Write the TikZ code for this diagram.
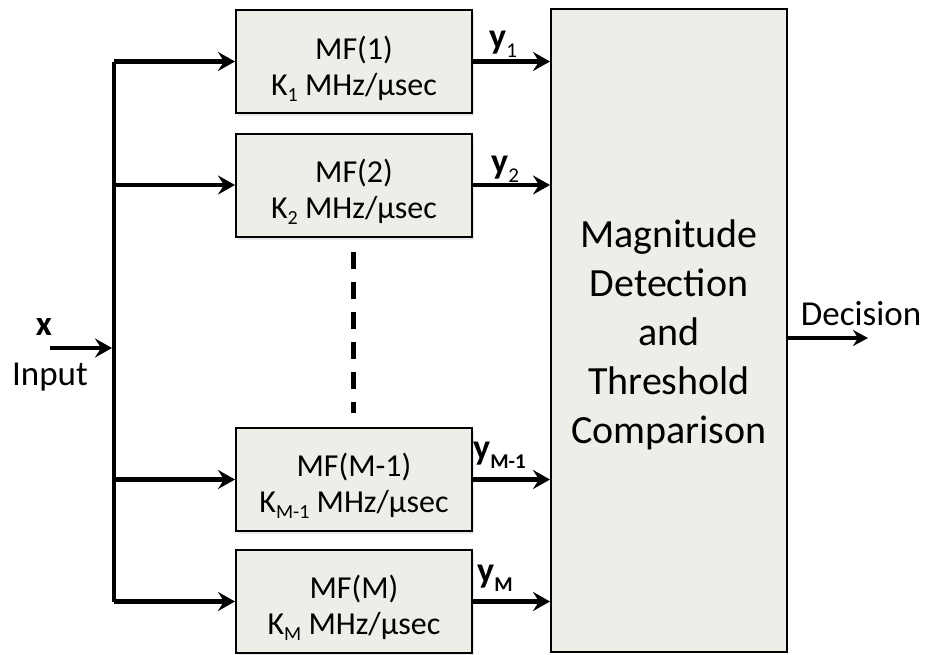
\documentclass[tikz,border=0pt]{standalone}
\usepackage{fontspec}
\setmainfont{Carlito}
\usetikzlibrary{arrows.meta,shadows}
\definecolor{boxfill}{RGB}{238,238,232}
\newcommand\ksub[1]{\raisebox{-6pt}{\fontsize{20}{20}\selectfont #1}}
\newcommand\ysub[1]{\raisebox{-9pt}{\fontsize{21}{21}\selectfont #1}}
\begin{document}
\begin{tikzpicture}[x=1pt,y=-1pt,
  mfbox/.style={draw=black, line width=2pt, fill=boxfill, minimum width=236pt, minimum height=103pt,
    inner sep=0pt, drop shadow={shadow xshift=2pt, shadow yshift=-3pt, fill=black!18}},
  mftext/.style={align=center, inner sep=0pt, font=\fontsize{32}{36}\selectfont},
  bigbox/.style={draw=black, line width=2pt, fill=boxfill, minimum width=236pt, minimum height=643pt,
    inner sep=0pt},
  bigtext/.style={align=center, inner sep=0pt, font=\fontsize{40}{49}\selectfont},
  arr/.style={line width=4.5pt, -{Stealth[length=17pt,width=19pt,inset=6pt]}},
  busline/.style={line width=4pt},
  lbl/.style={font=\fontsize{35}{40}\selectfont, inner sep=0pt},
  ylbl/.style={font=\fontsize{36}{40}\selectfont, inner sep=0pt, anchor=base west}
]
\useasboundingbox (0,0) rectangle (927,654);

\node[mfbox] (b1) at (354,61.5) {};
\node[mfbox] (b2) at (354,185) {};
\node[mfbox] (b3) at (354,479.5) {};
\node[mfbox] (b4) at (354,601.5) {};
\node[mftext] (t1) at ([yshift=-7pt]b1.center) {MF(1)\\K\ksub{1} MHz/µsec};
\node[mftext] (t2) at ([yshift=-7pt]b2.center) {MF(2)\\K\ksub{2} MHz/µsec};
\node[mftext] (t3) at ([yshift=-6pt]b3.center) {MF(M-1)\\K\ksub{M-1} MHz/µsec};
\node[mftext] (t4) at ([yshift=-6pt]b4.center) {MF(M)\\K\ksub{M} MHz/µsec};
\node[bigbox] (big) at (669,330.5) {};
\node[bigtext] (bt) at ([yshift=-4pt]big.center) {Magnitude\\Detection\\and\\Threshold\\Comparison};

\coordinate (bus) at (114,0);
\coordinate (in) at (50,348);
\coordinate (dec) at (868,338);

% input bus
\draw[busline] (b1.west -| bus) -- (b4.west -| bus);
\draw[arr] (in) -- ([xshift=-2pt]in -| bus);
\foreach \b in {b1,b2,b3,b4}{
  \draw[arr] (\b.west -| bus) -- (\b.west);
  \draw[arr] (\b.east) -- (\b.east -| big.west);
}
\draw[line width=3.5pt, -{Stealth[length=15pt,width=16pt,inset=5pt]}] (big.east |- dec) -- (dec);

% dots between filters
\coordinate (d1) at (353,252);
\coordinate (d2) at (353,413);
\draw[line width=5pt, dash pattern=on 17pt off 13pt] (d1) -- (d2);

% labels
\node[lbl, anchor=base] (lx) at (44,335) {\textbf{x}};
\node[lbl, anchor=base] (lin) at (50,385) {Input};
\node[lbl, anchor=base] (ldec) at (861,325) {Decision};
\node[ylbl] (y1) at (489,48) {\textbf{y}\ysub{1}};
\node[ylbl] (y2) at (491,173) {\textbf{y}\ysub{2}};
\node[ylbl] (y3) at (473,459) {\textbf{y\ysub{M-1}}};
\node[ylbl] (y4) at (477,582) {\textbf{y\ysub{M}}};
\end{tikzpicture}
\end{document}
